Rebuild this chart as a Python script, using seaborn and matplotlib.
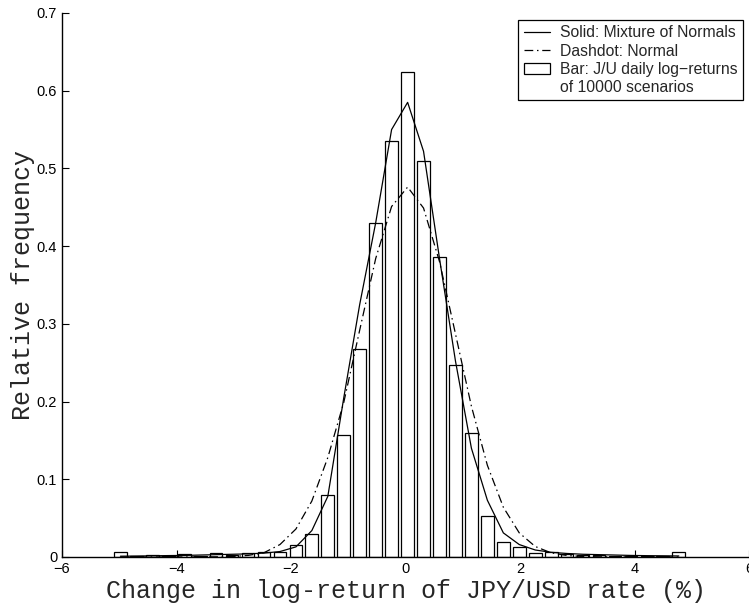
import numpy as np
import pandas as pd
import matplotlib
matplotlib.use('Agg')
import matplotlib.pyplot as plt
import seaborn as sns
from matplotlib.lines import Line2D
from matplotlib.patches import Rectangle

# bin centres of the histogram (% change in log-return)
bin_centers = [-4.980, -4.701, -4.423, -4.144, -3.865, -3.587, -3.308, -3.029,
               -2.750, -2.472, -2.193, -1.914, -1.636, -1.357, -1.078, -0.800,
               -0.521, -0.243, 0.037, 0.315, 0.594, 0.873, 1.151, 1.430,
               1.709, 1.987, 2.266, 2.545, 2.823, 3.102, 3.381, 3.659,
               3.938, 4.217, 4.495, 4.774]

# relative frequency of the 10000 simulated scenarios
bar_freq = [0.006, 0.001, 0.002, 0.0013, 0.004, 0.0017, 0.005, 0.0026,
            0.0048, 0.006, 0.007, 0.0155, 0.029, 0.080, 0.157, 0.267,
            0.430, 0.535, 0.624, 0.510, 0.386, 0.247, 0.160, 0.053,
            0.019, 0.013, 0.0055, 0.006, 0.004, 0.0026, 0.002, 0.0017,
            0.0017, 0.0013, 0.001, 0.006]

# fitted mixture of normals
mixture_pdf = [0.001, 0.0012, 0.0015, 0.0018, 0.002, 0.0025, 0.003, 0.0035,
               0.004, 0.005, 0.007, 0.013, 0.034, 0.078, 0.205, 0.325,
               0.430, 0.550, 0.585, 0.522, 0.384, 0.252, 0.140, 0.073,
               0.031, 0.016, 0.009, 0.006, 0.0045, 0.0035, 0.003, 0.0025,
               0.002, 0.0017, 0.0015, 0.0013]

# fitted single normal
normal_pdf = [0.0, 0.0, 0.0, 0.0, 0.0, 0.0001, 0.0002, 0.0006,
              0.002, 0.0055, 0.016, 0.036, 0.072, 0.128, 0.199, 0.292,
              0.384, 0.451, 0.476, 0.449, 0.380, 0.287, 0.194, 0.118,
              0.064, 0.031, 0.0135, 0.0053, 0.0019, 0.0006, 0.0002, 0.0,
              0.0, 0.0, 0.0, 0.0]

x_ticks = [-6, -4, -2, 0, 2, 4, 6]
x_tick_labels = ['\u22126', '\u22124', '\u22122', '0', '2', '4', '6']
y_ticks = [0, 0.1, 0.2, 0.3, 0.4, 0.5, 0.6, 0.7]
y_tick_labels = ['0', '0.1', '0.2', '0.3', '0.4', '0.5', '0.6', '0.7']

df = pd.DataFrame({'x': bin_centers, 'freq': bar_freq,
                   'mix': mixture_pdf, 'norm': normal_pdf})

sns.set_style('ticks')
plt.rcParams['font.family'] = ['Liberation Sans', 'DejaVu Sans']

fig = plt.figure(figsize=(7.49, 6.07), dpi=100)
ax = fig.add_axes([0.0828, 0.0824, 0.9172, 0.8962])

sns.barplot(data=df, x='x', y='freq', native_scale=True, width=0.8,
            color='white', edgecolor='black', linewidth=0.9, saturation=1,
            errorbar=None, ax=ax, zorder=1)
sns.lineplot(data=df, x='x', y='mix', color='black', linewidth=0.9,
             ax=ax, zorder=3)
sns.lineplot(data=df, x='x', y='norm', color='black', linewidth=0.9,
             ax=ax, zorder=3)
ax.lines[-1].set_dashes([7, 3, 1.2, 3])

ax.set_xlim(-6, 6)
ax.set_ylim(0, 0.7)
ax.set_xticks(x_ticks)
ax.set_xticklabels(x_tick_labels)
ax.set_yticks(y_ticks)
ax.set_yticklabels(y_tick_labels)
ax.tick_params(direction='in', length=5, width=0.8, labelsize=10.5, colors='black')
for s in ['top', 'right']:
    ax.spines[s].set_visible(False)
for s in ['left', 'bottom']:
    ax.spines[s].set_linewidth(1.0)
    ax.spines[s].set_color('black')

ax.set_xlabel('Change in log-return of JPY/USD rate (%)',
              family=['Liberation Mono', 'DejaVu Sans Mono'], fontsize=18, labelpad=2)
ax.set_ylabel('Relative frequency',
              family=['Liberation Mono', 'DejaVu Sans Mono'], fontsize=18, labelpad=1)

handles = [Line2D([], [], color='black', linewidth=0.9),
           Line2D([], [], color='black', linewidth=0.9, dashes=[7, 3, 1.2, 3]),
           Rectangle((0, 0), 1, 1, facecolor='white', edgecolor='black', linewidth=0.9),
           Line2D([], [], color='none')]
labels = ['Solid: Mixture of Normals', 'Dashdot: Normal',
          'Bar: J/U daily log\u2212returns', 'of 10000 scenarios']
leg = ax.legend(handles, labels, loc='upper right',
                bbox_to_anchor=(743 / 749, 1 - 20 / 607),
                bbox_transform=fig.transFigure, borderaxespad=0,
                fontsize=11.3, handlelength=1.65, handletextpad=0.65,
                labelspacing=0.2, borderpad=0.35, fancybox=False,
                framealpha=1, edgecolor='black')
leg.get_frame().set_linewidth(0.9)

fig.savefig('out.png', dpi=100)
